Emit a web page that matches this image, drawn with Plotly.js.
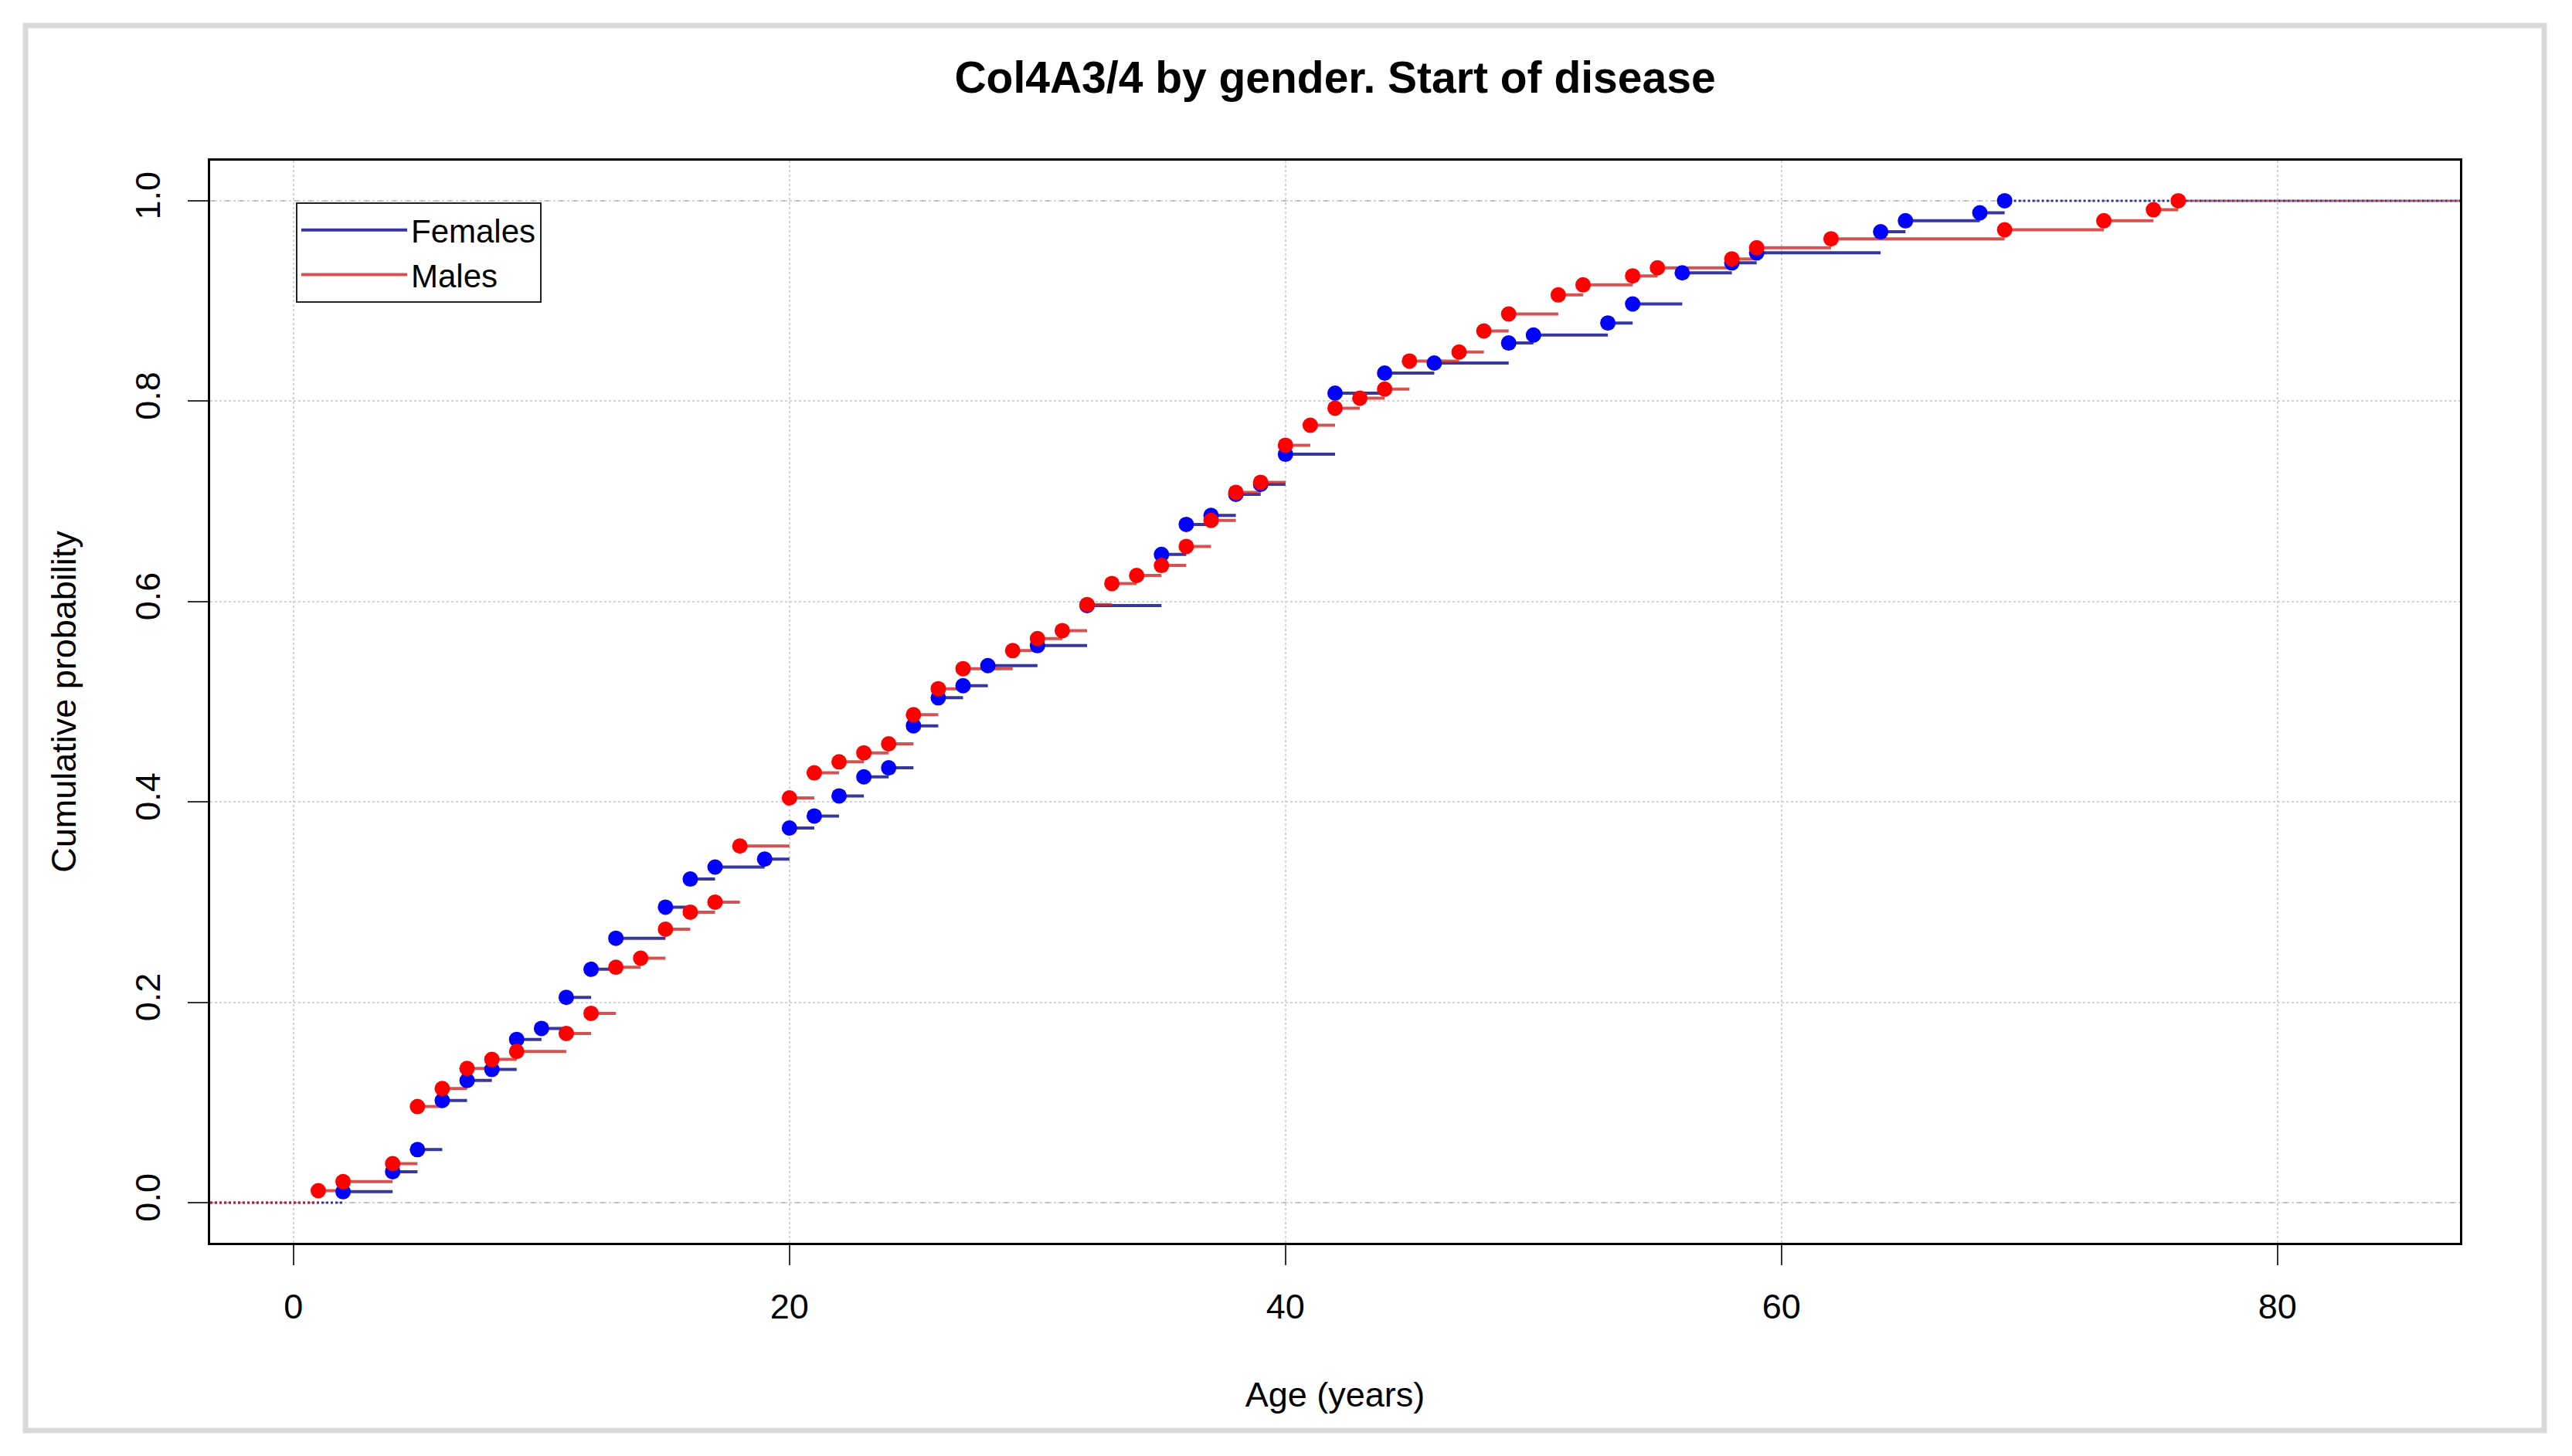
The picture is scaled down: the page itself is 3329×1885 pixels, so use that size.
<!DOCTYPE html>
<html>
<head>
<meta charset="utf-8">
<script src="https://cdn.plot.ly/plotly-3.0.1.min.js"></script>
<style>
  html, body { margin: 0; padding: 0; background: #ffffff; }
  #chart { width: 3329px; height: 1885px; }
</style>
</head>
<body>
<div id="chart"></div>
<script>
// ---- Data ----
const femalesAge = [2,4,5,6,7,8,9,10,11,12,13,15,16,17,19,20,21,22,23,24,25,26,27,28,30,32,35,36,37,38,39,40,42,44,46,49,50,53,54,56,58,59,64,65,68,69];
const femalesProb = [0.011,0.031,0.053,0.102,0.122,0.133,0.163,0.174,0.205,0.233,0.264,0.295,0.323,0.335,0.343,0.374,0.386,0.406,0.425,0.434,0.476,0.504,0.516,0.536,0.556,0.596,0.647,0.677,0.686,0.707,0.717,0.747,0.808,0.828,0.838,0.858,0.866,0.878,0.897,0.928,0.938,0.948,0.969,0.980,0.988,1.0];

const malesAge = [1,2,4,5,6,7,8,9,11,12,13,14,15,16,17,18,20,21,22,23,24,25,26,27,29,30,31,32,33,34,35,36,37,38,39,40,41,42,43,44,45,47,48,49,51,52,54,55,58,59,62,69,73,75,76];
const malesProb = [0.012,0.021,0.039,0.096,0.114,0.134,0.143,0.151,0.169,0.189,0.235,0.244,0.273,0.290,0.300,0.356,0.404,0.429,0.440,0.449,0.458,0.487,0.513,0.533,0.551,0.563,0.571,0.597,0.618,0.626,0.636,0.655,0.681,0.709,0.719,0.756,0.776,0.793,0.803,0.812,0.840,0.849,0.870,0.887,0.906,0.916,0.925,0.933,0.942,0.953,0.962,0.971,0.980,0.991,1.0];

const seriesNames = ["Females", "Males"];
const xTicks = [0, 20, 40, 60, 80];
const yTicks = [0, 0.2, 0.4, 0.6, 0.8, 1.0];
const yTickText = ["0.0", "0.2", "0.4", "0.6", "0.8", "1.0"];
const xRange = [-3.36, 87.36];
const yRange = [-0.04, 1.04];

// ---- Styles ----
const lineColors = ["rgba(20,20,140,0.85)", "rgba(200,40,40,0.8)"];
const pointColors = ["#0000ff", "#ff0000"];
const FONT = "Liberation Sans, Arial, sans-serif";

// horizontal segments from each event to the next event (no vertical risers)
function segments(ages, probs) {
  const xs = [], ys = [];
  for (let i = 0; i < ages.length - 1; i++) {
    xs.push(ages[i], ages[i + 1], null);
    ys.push(probs[i], probs[i], null);
  }
  return { xs, ys };
}

function seriesTraces(ages, probs, idx) {
  const n = ages.length;
  const seg = segments(ages, probs);
  return [
    { x: [xRange[0], ages[0]], y: [0, 0], mode: "lines", showlegend: false, hoverinfo: "skip",
      line: { color: lineColors[idx], width: 3, dash: "dot" } },
    { x: [ages[n - 1], xRange[1]], y: [probs[n - 1], probs[n - 1]], mode: "lines", showlegend: false, hoverinfo: "skip",
      line: { color: lineColors[idx], width: 3, dash: "dot" } },
    { x: seg.xs, y: seg.ys, mode: "lines", name: seriesNames[idx], connectgaps: false,
      line: { color: lineColors[idx], width: 4 } },
    { x: ages, y: probs, mode: "markers", showlegend: false,
      marker: { color: pointColors[idx], size: 20 } }
  ];
}

const fT = seriesTraces(femalesAge, femalesProb, 0);
const mT = seriesTraces(malesAge, malesProb, 1);
const data = [fT[0], mT[0], fT[1], mT[1], fT[2], mT[2], fT[3], mT[3]];

// plot area in pixels: left 272, right 3184, top 208, bottom 1609
const PL = 272, PR = 3184, PT = 208, PB = 1609;
const PW = PR - PL, PH = PB - PT;
const frame = { x0: (33 - PL) / PW, x1: (3293 - PL) / PW, y0: (PB - 1852) / PH, y1: (PB - 33) / PH };

const layout = {
  width: 3329, height: 1885,
  margin: { l: PL, r: 3329 - PR, t: PT, b: 1885 - PB, pad: 0 },
  paper_bgcolor: "#ffffff", plot_bgcolor: "#ffffff",
  font: { family: FONT, size: 45, color: "#000000" },
  title: { text: "<b>Col4A3/4 by gender. Start of disease</b>", font: { family: FONT, size: 57, color: "#000000" },
           x: 0.5, xref: "paper", xanchor: "center", y: 1 - 100 / 1885, yref: "container", yanchor: "middle" },
  xaxis: {
    range: xRange, tickvals: xTicks, ticktext: xTicks.map(String),
    showgrid: true, gridcolor: "#d3d3d3", gridwidth: 2, griddash: "dot", zeroline: false,
    showline: true, mirror: true, linecolor: "#000000", linewidth: 3,
    ticks: "outside", ticklen: 26, tickwidth: 2, tickcolor: "#333333", ticklabelstandoff: 15,
    tickfont: { family: FONT, size: 45, color: "#000000" },
    title: { text: "Age (years)", font: { family: FONT, size: 45, color: "#000000" }, standoff: 74 }
  },
  yaxis: {
    range: yRange, tickvals: yTicks, ticktext: yTickText, tickangle: -90,
    showgrid: true, gridcolor: "#d3d3d3", gridwidth: 2, griddash: "dot", zeroline: false,
    showline: true, mirror: true, linecolor: "#000000", linewidth: 3,
    ticks: "outside", ticklen: 26, tickwidth: 2, tickcolor: "#333333", ticklabelstandoff: 18,
    tickfont: { family: FONT, size: 45, color: "#000000" },
    title: { text: "Cumulative probability", font: { family: FONT, size: 45, color: "#000000" }, standoff: 54 }
  },
  legend: {
    x: (383 - PL) / PW, y: (PB - 262) / PH, xanchor: "left", yanchor: "top",
    bgcolor: "#ffffff", bordercolor: "#222222", borderwidth: 2,
    font: { family: FONT, size: 42, color: "#000000" }, itemwidth: 137, tracegroupgap: 0
  },
  shapes: [
    { type: "rect", xref: "paper", yref: "paper", x0: frame.x0, x1: frame.x1, y0: frame.y0, y1: frame.y1,
      line: { color: "#d9d9d9", width: 7 }, fillcolor: "rgba(0,0,0,0)", layer: "below" },
    { type: "line", xref: "paper", yref: "y", x0: 0, x1: 1, y0: 0, y1: 0,
      line: { color: "#bbbbbb", width: 2, dash: "dash" }, layer: "below" },
    { type: "line", xref: "paper", yref: "y", x0: 0, x1: 1, y0: 1, y1: 1,
      line: { color: "#bbbbbb", width: 2, dash: "dash" }, layer: "below" }
  ],
  showlegend: true
};

Plotly.newPlot("chart", data, layout, { displayModeBar: false, staticPlot: true });
</script>
</body>
</html>
